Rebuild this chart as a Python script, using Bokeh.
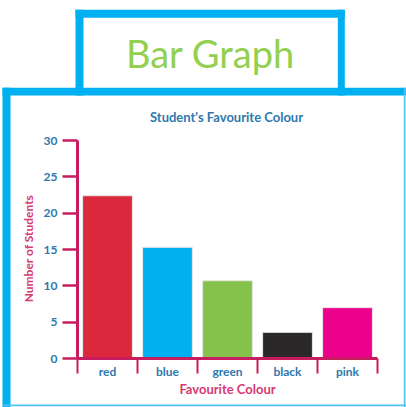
import math
from bokeh.plotting import figure
from bokeh.models import Range1d, FixedTicker, LinearAxis, BoxAnnotation, Label
from bokeh.embed import file_html
from bokeh.resources import INLINE

# ---- data ----
colours = ["red", "blue", "green", "black", "pink"]
students = [22.4, 15.3, 10.7, 3.6, 7.0]
bar_colours = ["#DC283C", "#00B0F0", "#84C24B", "#2B2829", "#EC008C"]
y_ticks = [0, 5, 10, 15, 20, 25, 30]
heading = "Bar Graph"
chart_title = "Student's Favourite Colour"
x_label = "Favourite Colour"
y_label = "Number of Students"

# ---- style ----
AXIS = "#C81C61"
TICKTXT = "#2E78AD"
AXTITLE = "#D63A72"
FRAME = "#00B0F0"
THIN = "#4FC3F2"
FONT = "Lato"

W, H = 406, 407
FL, FR, FT, FB = 77, 377, 140, 358  # pixel positions of the chart axes

n = len(colours)
xs = [i + 0.5 for i in range(n)]
YMAX = y_ticks[-1]
kx = n / (FR - FL)
ky = YMAX / (FB - FT)

p = figure(width=W, height=H, output_backend="svg", toolbar_location=None,
           x_range=Range1d(-FL * kx, (W - FL) * kx),
           y_range=Range1d(-(H - FB) * ky, FB * ky),
           x_axis_type=None, y_axis_type=None, min_border=0)
p.outline_line_color = None
p.grid.visible = False
p.background_fill_color = "white"

p.vbar(x=xs, top=students, width=0.83, bottom=0, fill_color=bar_colours,
       line_color="#e6e6e6", line_width=1)

xaxis = LinearAxis(
    fixed_location=0, bounds=(0, n),
    ticker=FixedTicker(ticks=xs, minor_ticks=list(range(n + 1))),
    major_label_overrides={x: lab for x, lab in zip(xs, colours)},
    axis_line_color=AXIS, axis_line_width=3,
    major_tick_line_color=None, major_tick_in=0, major_tick_out=0,
    minor_tick_line_color=AXIS, minor_tick_line_width=2,
    minor_tick_in=0, minor_tick_out=15,
    major_label_standoff=-10,
    major_label_text_color=TICKTXT, major_label_text_font=FONT,
    major_label_text_font_size="12px", major_label_text_font_style="bold",
    axis_label=x_label, axis_label_text_color=AXTITLE,
    axis_label_text_font=FONT, axis_label_text_font_size="13px",
    axis_label_text_font_style="bold", axis_label_standoff=-1,
)
p.add_layout(xaxis, "below")

yaxis = LinearAxis(
    fixed_location=0, bounds=(0, YMAX),
    ticker=FixedTicker(ticks=y_ticks),
    axis_line_color=AXIS, axis_line_width=3,
    major_tick_line_color=AXIS, major_tick_line_width=2.5,
    major_tick_in=0, major_tick_out=15,
    minor_tick_line_color=None,
    major_label_standoff=5,
    major_label_text_color=TICKTXT, major_label_text_font=FONT,
    major_label_text_font_size="12px", major_label_text_font_style="bold",
)
p.add_layout(yaxis, "left")


def box(l, r, t, b, color):
    p.add_layout(BoxAnnotation(left=l, right=r, top=t, bottom=b,
                               left_units="canvas", right_units="canvas",
                               top_units="canvas", bottom_units="canvas",
                               fill_color=color, fill_alpha=1, line_color=None))


# big frame
box(2, 406, 87.3, 95, FRAME)
box(2, 10, 87.3, 407, FRAME)
box(403.3, 405, 87.3, 407, THIN)
box(2, 406, 404, 405.7, THIN)
# heading box
box(75, 344.3, 9.3, 17.3, FRAME)
box(75, 83, 9.3, 95, FRAME)
box(337.3, 344.3, 9.3, 95, FRAME)

p.add_layout(Label(x=210, y=52, x_units="canvas", y_units="canvas",
                   text=heading, text_align="center", text_baseline="alphabetic",
                   text_color="#92D050", text_font=FONT, text_font_size="38px"))
p.add_layout(Label(x=226, y=116.5, x_units="canvas", y_units="canvas",
                   text=chart_title, text_align="center", text_baseline="alphabetic",
                   text_color=TICKTXT, text_font=FONT, text_font_size="13px",
                   text_font_style="bold"))
p.add_layout(Label(x=28, y=248, x_units="canvas", y_units="canvas", angle=math.pi / 2,
                   text=y_label, text_align="center", text_baseline="middle",
                   text_color=AXTITLE, text_font=FONT, text_font_size="12px",
                   text_font_style="bold"))

open("out.html", "w").write(file_html(p, INLINE))
